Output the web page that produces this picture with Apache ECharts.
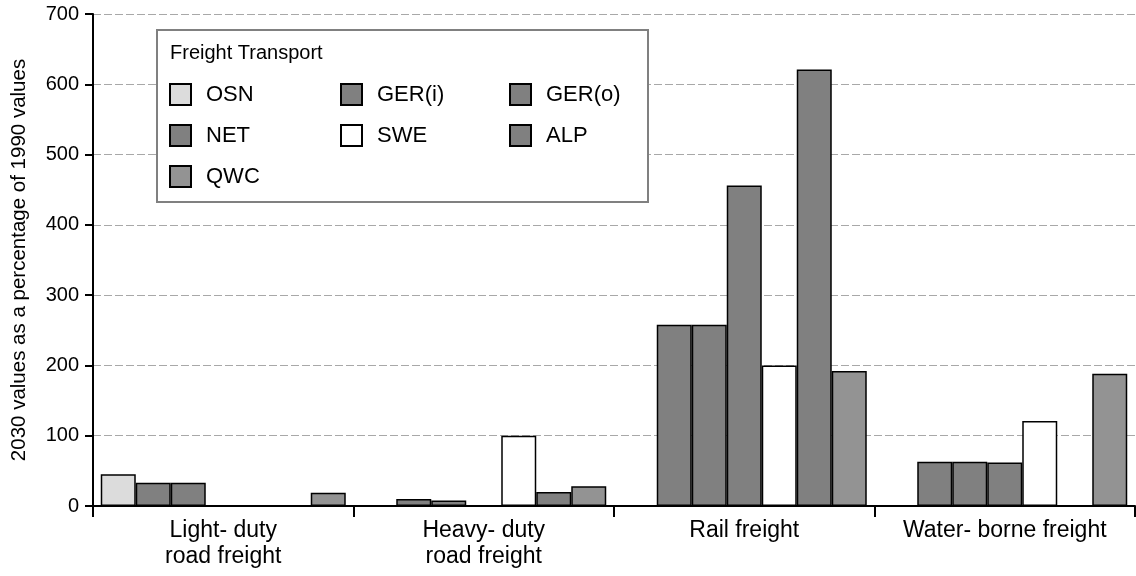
<!DOCTYPE html>
<html>
<head>
<meta charset="utf-8">
<script src="https://cdn.jsdelivr.net/npm/echarts@6/dist/echarts.min.js"></script>
<style>
  html, body { margin: 0; padding: 0; background: #fff; }
  #chart { width: 1136px; height: 576px; }
</style>
</head>
<body>
<div id="chart"></div>
<script>
  // categories and values (2030 as % of 1990)
  const categories = ['Light- duty\nroad freight', 'Heavy- duty\nroad freight', 'Rail freight', 'Water- borne freight']
  const OSN = [45, 0, 0, 0]
  const GERi = [33, 10, 258, 63]
  const GERo = [33, 8, 258, 63]
  const NET = [0, 0, 456, 62]
  const SWE = [0, 100, 200, 121]
  const ALP = [0, 20, 621, 0]
  const QWC = [19, 28, 192, 188]
  const yTicks = [0, 100, 200, 300, 400, 500, 600, 700]

  const font = 'Liberation Sans, Arial, sans-serif'
  const chart = echarts.init(document.getElementById('chart'))

  function bar(name, data, color) {
    return {
      name: name,
      type: 'bar',
      data: data,
      barWidth: 35,
      barGap: '0%',
      itemStyle: { color: color, borderColor: '#000', borderWidth: 1.5 },
      z: 2
    }
  }

  const legendBase = {
    orient: 'vertical',
    top: 83,
    padding: 0,
    itemWidth: 21,
    itemHeight: 21,
    itemGap: 18,
    icon: 'rect',
    textStyle: { fontFamily: font, fontSize: 22, color: '#000', lineHeight: 21, padding: [0, 0, 0, 10] },
    z: 6
  }

  chart.setOption({
    animation: false,
    grid: { left: 93, right: 1, top: 14, bottom: 70 },
    legend: [
      Object.assign({}, legendBase, { left: 169, data: ['OSN', 'NET', 'QWC'] }),
      Object.assign({}, legendBase, { left: 340, data: ['GER(i)', 'SWE'] }),
      Object.assign({}, legendBase, { left: 509, data: ['GER(o)', 'ALP'] })
    ],
    graphic: [
      {
        type: 'rect',
        shape: { x: 157, y: 30, width: 491, height: 172 },
        style: { fill: '#fff', stroke: '#808080', lineWidth: 2 },
        z: 3
      },
      {
        type: 'text',
        left: 170,
        top: 43,
        style: { text: 'Freight Transport', font: '20px Liberation Sans, Arial, sans-serif', fill: '#000' },
        z: 6
      }
    ],
    xAxis: {
      type: 'category',
      data: categories,
      axisLine: { lineStyle: { color: '#000', width: 2 } },
      axisTick: { show: true, length: 11, lineStyle: { color: '#000', width: 2 } },
      axisLabel: { fontFamily: font, fontSize: 23, color: '#000', lineHeight: 26, margin: 12, interval: 0 }
    },
    yAxis: {
      type: 'value',
      min: yTicks[0],
      max: yTicks[yTicks.length - 1],
      interval: 100,
      name: '2030 values as a percentage of 1990 values',
      nameLocation: 'middle',
      nameRotate: 90,
      nameGap: 63,
      nameTextStyle: { fontFamily: font, fontSize: 20.5, color: '#000' },
      axisLine: { show: true, lineStyle: { color: '#000', width: 2 } },
      axisTick: { show: true, length: 8, lineStyle: { color: '#000', width: 2 } },
      axisLabel: { fontFamily: font, fontSize: 20, color: '#000', margin: 14 },
      splitLine: { show: true, lineStyle: { color: '#a8a8a8', type: [8, 3], width: 1 } }
    },
    series: [
      bar('OSN', OSN, '#dcdcdc'),
      bar('GER(i)', GERi, '#808080'),
      bar('GER(o)', GERo, '#808080'),
      bar('NET', NET, '#808080'),
      bar('SWE', SWE, '#ffffff'),
      bar('ALP', ALP, '#808080'),
      bar('QWC', QWC, '#939393')
    ]
  })
</script>
</body>
</html>
